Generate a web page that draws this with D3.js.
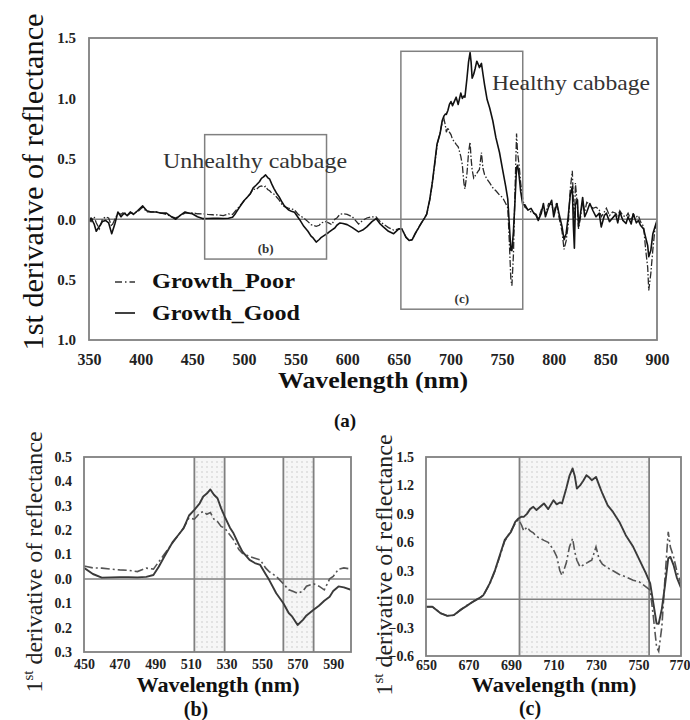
<!DOCTYPE html>
<html><head><meta charset="utf-8">
<script src="https://cdn.jsdelivr.net/npm/d3@7"></script>
<style>
body{margin:0;background:#fff;}
svg{display:block;font-family:"Liberation Serif","Times New Roman",serif;}
</style></head><body>
<svg id="fig" width="690" height="720"></svg>
<script>
// First-derivative reflectance spectra of cabbage, sampled in nm
const wavelengths = [
  350,352,355,357,360,363,366,369,372,375,378,381,384,387,390,393,397,402,406,410,
  415,420,425,430,434,438,443,447,450,455,460,465,470,475,480,485,489,492,495,500,
  503,506,509,512,515,517,519,521,523,525,527,529,532,534,537,539,543,546,549,552,
  554,558,562,565,567,570,573,575,579,582,585,588,590,593,596,600,605,611,615,619,
  624,628,632,635,640,645,650,653,657,660,663,666,669,672,675,677,680,682.5,685,687,
  690,692,693.5,695,696,697.5,699,700.5,702,704,705.5,707.5,710,711.5,713,714,716,717.5,719,720,
  721,722.5,724,725.5,727,728,730,731.5,733,735.5,738,741,744,747.5,750.5,753.5,755.5,757,758.5,759.5,
  761,762.5,764,765,766.5,768,770,772,775,778,780,783,785,788,790,792,795,798,800,803,
  805,808,810,812,814,816,818,819,820,821,823,824,826,828,830,832,835,838,841,844,
  846,849,851,854,857,860,862,864,867,870,872,875,877,880,882,884,887,889,891,892,
  894,896,898,900
];
const growthGood = [
  -0.02,0.01,-0.04,-0.10,-0.06,-0.02,-0.01,-0.03,-0.12,-0.04,0.06,0.02,0.05,0.03,0.06,0.04,0.07,0.11,0.07,0.06,
  0.06,0.05,0.05,0.02,0.00,0.03,0.06,0.05,0.045,0.02,0.005,0.006,0.007,0.007,0.006,0.008,0.016,0.05,0.09,0.153,
  0.18,0.208,0.26,0.283,0.31,0.338,0.35,0.367,0.345,0.331,0.29,0.256,0.21,0.187,0.14,0.112,0.078,0.065,0.057,0.02,
  -0.004,-0.059,-0.10,-0.14,-0.155,-0.189,-0.168,-0.15,-0.127,-0.11,-0.09,-0.073,-0.05,-0.031,-0.035,-0.045,-0.07,-0.105,-0.09,-0.064,
  -0.02,0.005,-0.04,-0.064,-0.10,-0.12,-0.08,-0.081,-0.151,-0.176,-0.169,-0.116,-0.074,-0.028,0.01,0.042,0.166,0.306,0.482,0.622,
  0.71,0.815,0.851,0.87,0.868,0.90,0.95,0.974,0.94,0.98,1.01,0.95,1.044,1.00,1.02,1.01,1.167,1.30,1.379,1.30,
  1.167,1.20,1.25,1.308,1.28,1.255,1.29,1.20,1.115,0.99,0.92,0.815,0.675,0.552,0.411,0.271,0.166,-0.046,-0.257,-0.26,
  -0.10,0.15,0.43,0.446,0.359,0.23,0.12,0.12,0.075,0.09,0.06,0.03,-0.01,0.05,0.13,0.02,0.10,0.157,0.02,0.13,
  0.05,-0.06,-0.17,-0.12,0.02,0.20,0.27,-0.05,-0.24,0.12,0.16,-0.06,0.05,0.18,0.02,0.06,0.13,0.07,0.02,0.05,
  -0.064,0.03,0.05,-0.02,0.01,0.04,-0.03,0.06,-0.01,-0.036,0.02,-0.04,0.045,-0.03,-0.01,-0.05,-0.08,-0.15,-0.22,-0.31,
  -0.26,-0.12,-0.064,-0.01
];
const growthPoor = [
  0.00,-0.02,0.02,-0.03,-0.08,0.00,0.02,0.01,-0.06,0.00,0.05,0.04,0.06,0.03,0.05,0.05,0.06,0.10,0.06,0.06,
  0.06,0.05,0.04,0.02,0.01,0.03,0.05,0.05,0.053,0.045,0.044,0.04,0.037,0.035,0.03,0.044,0.04,0.07,0.10,0.15,
  0.18,0.21,0.25,0.245,0.27,0.276,0.265,0.272,0.245,0.235,0.215,0.209,0.18,0.16,0.12,0.105,0.092,0.085,0.078,0.045,
  0.03,0.01,-0.02,-0.045,-0.05,-0.059,-0.05,-0.03,-0.02,-0.03,-0.045,0.00,0.01,0.04,0.045,0.04,0.02,-0.04,-0.01,0.01,
  0.02,0.02,-0.02,-0.04,-0.07,-0.09,-0.08,-0.08,-0.15,-0.175,-0.17,-0.12,-0.07,-0.03,0.01,0.04,0.16,0.30,0.47,0.61,
  0.72,0.80,0.84,0.78,0.72,0.76,0.72,0.70,0.66,0.64,0.62,0.60,0.52,0.45,0.30,0.25,0.38,0.55,0.64,0.50,
  0.41,0.34,0.36,0.38,0.40,0.41,0.552,0.42,0.37,0.33,0.30,0.26,0.235,0.20,0.18,0.13,0.095,-0.187,-0.503,-0.55,
  -0.29,0.235,0.71,0.55,0.446,0.30,0.166,0.10,0.08,0.06,0.05,0.04,0.00,0.08,0.10,0.04,0.13,0.12,0.06,0.14,
  0.02,-0.10,-0.25,-0.18,-0.05,0.25,0.40,0.15,-0.05,0.30,0.10,-0.08,0.02,0.15,0.06,0.14,0.12,0.09,0.10,0.08,
  0.02,0.06,0.09,0.03,0.06,0.05,0.02,0.07,0.03,0.02,0.05,-0.01,0.04,0.02,0.03,-0.02,-0.06,-0.25,-0.40,-0.59,
  -0.45,-0.25,-0.08,-0.02
];

// Axis ticks for the three panels
const mainXTicks = [350,400,450,500,550,600,650,700,750,800,850,900];
const mainYTicks = [-1.0,-0.5,0.0,0.5,1.0,1.5];
const bXTicks = [450,470,490,510,530,550,570,590];
const bYTicks = [-0.3,-0.2,-0.1,0.0,0.1,0.2,0.3,0.4,0.5];
const cXTicks = [650,670,690,710,730,750,770];
const cYTicks = [-0.6,-0.3,0.0,0.3,0.6,0.9,1.2,1.5];

// Highlighted wavelength bands in the detail panels
const bBands = [[512,529],[562,579]];
const cBands = [[694,755]];

// Regions of the overview that are enlarged below
const zoomRegions = [
  {label:"(b)", w0:462, w1:580, v0:-0.33, v1:0.70},
  {label:"(c)", w0:652, w1:770, v0:-0.745, v1:1.39}
];

const seriesNames = ["Growth_Poor","Growth_Good"];

const rows = wavelengths.map((w,i)=>({w, good:growthGood[i], poor:growthPoor[i]}));

const svg = d3.select("#fig");
const defs = svg.append("defs");
const pat = defs.append("pattern").attr("id","grain").attr("width",5).attr("height",5)
  .attr("patternUnits","userSpaceOnUse");
pat.append("rect").attr("width",5).attr("height",5).attr("fill","#f6f6f6");
pat.append("rect").attr("x",1).attr("y",1).attr("width",2).attr("height",2).attr("fill","#e2e2e2");

const FRAME = "#808080";

function panel(opt){
  const x = d3.scaleLinear().domain(opt.xDomain).range([opt.left, opt.right]);
  const y = d3.scaleLinear().domain(opt.yDomain).range([opt.bottom, opt.top]);
  const g = svg.append("g");
  const cid = "clip-" + opt.id;
  defs.append("clipPath").attr("id",cid).append("rect")
    .attr("x",opt.left).attr("y",opt.top)
    .attr("width",opt.right-opt.left).attr("height",opt.bottom-opt.top);

  (opt.bands||[]).forEach(b=>{
    g.append("rect").attr("x",x(b[0])).attr("y",opt.top)
      .attr("width",x(b[1])-x(b[0])).attr("height",opt.bottom-opt.top)
      .attr("fill","url(#grain)");
  });
  (opt.bands||[]).forEach(b=>{
    b.forEach(v=>g.append("line").attr("x1",x(v)).attr("x2",x(v))
      .attr("y1",opt.top).attr("y2",opt.bottom)
      .attr("stroke",FRAME).attr("stroke-width",1.8));
  });

  // zero reference
  g.append("line").attr("x1",opt.left).attr("x2",opt.right)
    .attr("y1",y(0)).attr("y2",y(0)).attr("stroke",FRAME).attr("stroke-width",1.5);

  const data = rows.filter((d,i)=>{
    const prev = rows[i-1], next = rows[i+1];
    return (d.w>=opt.xDomain[0] && d.w<=opt.xDomain[1]) ||
      (next && next.w>opt.xDomain[0] && d.w<opt.xDomain[0]) ||
      (prev && prev.w<opt.xDomain[1] && d.w>opt.xDomain[1]);
  });
  const lineG = g.append("g").attr("clip-path",`url(#${cid})`);
  lineG.append("path").datum(data)
    .attr("d", d3.line().x(d=>x(d.w)).y(d=>y(d.poor)))
    .attr("fill","none").attr("stroke",opt.poorColor).attr("stroke-width",opt.poorWidth)
    .attr("stroke-dasharray",opt.dash);
  lineG.append("path").datum(data)
    .attr("d", d3.line().x(d=>x(d.w)).y(d=>y(d.good)))
    .attr("fill","none").attr("stroke",opt.goodColor).attr("stroke-width",opt.goodWidth)
    .attr("stroke-linejoin","round");

  g.append("rect").attr("x",opt.left).attr("y",opt.top)
    .attr("width",opt.right-opt.left).attr("height",opt.bottom-opt.top)
    .attr("fill","none").attr("stroke",FRAME).attr("stroke-width",1.8);

  const xa = g.append("g").attr("transform",`translate(0,${opt.bottom})`)
    .call(d3.axisBottom(x).tickValues(opt.xTicks).tickSize(0).tickPadding(opt.xPad).tickFormat(d3.format("d")));
  const ya = g.append("g").attr("transform",`translate(${opt.left},0)`)
    .call(d3.axisLeft(y).tickValues(opt.yTicks).tickSize(0).tickPadding(opt.yPad).tickFormat(opt.yFmt));
  [xa,ya].forEach(a=>{
    a.select(".domain").remove();
    a.selectAll("text").attr("font-family",'"Liberation Serif",serif')
      .attr("font-weight","bold").attr("fill","#222");
  });
  xa.selectAll("text").attr("font-size",opt.xFont);
  ya.selectAll("text").attr("font-size",opt.yFont);
  return {x,y,g,xa,ya};
}

function txt(s, x, y, o){
  const t = svg.append("text").attr("x",x).attr("y",y).text(s)
    .attr("font-size",o.size).attr("fill",o.fill||"#111")
    .attr("text-anchor",o.anchor||"start")
    .attr("font-weight",o.bold?"bold":"normal");
  if(o.len) t.attr("textLength",o.len).attr("lengthAdjust","spacingAndGlyphs");
  return t;
}

const absFmt = d=>d3.format(".1f")(Math.abs(d));

// (a) overview, 350–900 nm
const A = panel({id:"a", left:89, right:657, top:38, bottom:340,
  xDomain:[350,900], yDomain:[-1.0,1.5], xTicks:mainXTicks, yTicks:mainYTicks,
  yFmt:absFmt, xPad:14, yPad:13, xFont:16, yFont:15,
  goodColor:"#111", goodWidth:1.6, poorColor:"#2a2a2a", poorWidth:1.3, dash:"7,2,1.5,2"});

zoomRegions.forEach(r=>{
  A.g.append("rect").attr("x",A.x(r.w0)).attr("y",A.y(r.v1))
    .attr("width",A.x(r.w1)-A.x(r.w0)).attr("height",A.y(r.v0)-A.y(r.v1))
    .attr("fill","none").attr("stroke",FRAME).attr("stroke-width",1.5);
  A.g.append("text").attr("x",(A.x(r.w0)+A.x(r.w1))/2).attr("y",A.y(r.v0)-6)
    .attr("text-anchor","middle").attr("font-size",13).attr("font-weight","bold")
    .attr("fill","#333").text(r.label);
});

txt("Unhealthy cabbage", 163, 168, {size:22, len:184, fill:"#333"});
txt("Healthy cabbage", 492, 90, {size:22, len:158, fill:"#333"});

// legend
const legend = svg.append("g");
legend.append("line").attr("x1",115).attr("x2",135).attr("y1",282).attr("y2",282)
  .attr("stroke","#333").attr("stroke-width",1.4).attr("stroke-dasharray","7,3,1.5,3");
legend.append("line").attr("x1",115).attr("x2",135).attr("y1",313).attr("y2",313)
  .attr("stroke","#111").attr("stroke-width",1.6);
txt(seriesNames[0], 152, 288, {size:22, bold:true, len:143});
txt(seriesNames[1], 152, 320, {size:22, bold:true, len:148});

// axis titles for (a)
svg.append("text").attr("transform","translate(43,182) rotate(-90)")
  .attr("text-anchor","middle").attr("font-size",30).attr("fill","#111")
  .attr("textLength",337).attr("lengthAdjust","spacingAndGlyphs")
  .text("1st derivative of reflectance");
txt("Wavelength (nm)", 373, 388, {size:24, bold:true, anchor:"middle", len:190});
txt("(a)", 345, 427, {size:19, bold:true, anchor:"middle"});

// (b) detail 450–600 nm
panel({id:"b", left:84, right:351, top:457, bottom:652,
  xDomain:[450,600], yDomain:[-0.3,0.5], xTicks:bXTicks, yTicks:bYTicks,
  yFmt:absFmt, xPad:7, yPad:12, xFont:14, yFont:14,
  goodColor:"#3a3a3a", goodWidth:1.9, poorColor:"#555", poorWidth:1.6, dash:"9,3,2,3",
  bands:bBands});

// (c) detail 650–770 nm
const C = panel({id:"c", left:426, right:681, top:457, bottom:656,
  xDomain:[650,770], yDomain:[-0.6,1.5], xTicks:cXTicks, yTicks:cYTicks,
  yFmt:d3.format(".1f"), xPad:4, yPad:12, xFont:14, yFont:14,
  goodColor:"#3a3a3a", goodWidth:1.9, poorColor:"#555", poorWidth:1.6, dash:"9,3,2,3",
  bands:cBands});
// keep the last wavelength label inside the page edge
C.xa.selectAll(".tick").filter(d=>d===770).select("text")
  .attr("text-anchor","end").attr("x",9);

function derivTitle(xb, yc){
  const t = svg.append("text").attr("transform",`translate(${xb},${yc}) rotate(-90)`)
    .attr("text-anchor","middle").attr("font-size",24).attr("fill","#222");
  t.append("tspan").text("1");
  t.append("tspan").attr("font-size",15).attr("dy",-9).text("st");
  t.append("tspan").attr("dy",9).text(" derivative of reflectance");
}
derivTitle(42, 562);
derivTitle(392, 565);

txt("Wavelength (nm)", 218, 692, {size:21, bold:true, anchor:"middle", len:163});
txt("Wavelength (nm)", 554, 692, {size:21, bold:true, anchor:"middle", len:165});
txt("(b)", 196, 716, {size:20, bold:true, anchor:"middle"});
txt("(c)", 530, 715, {size:20, bold:true, anchor:"middle"});
</script>
</body></html>
